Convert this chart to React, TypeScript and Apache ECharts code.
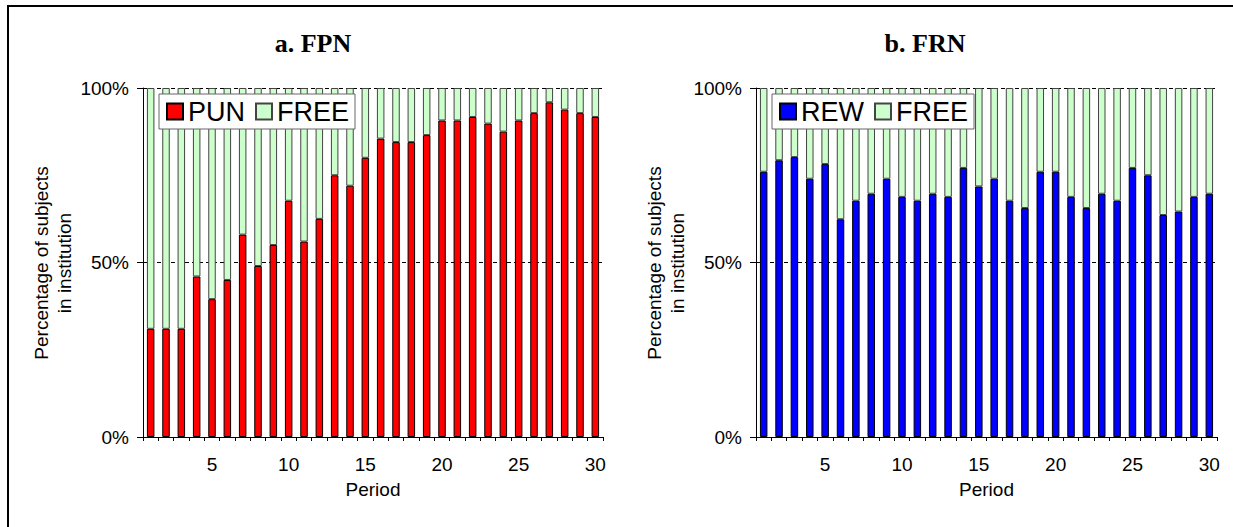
import React, { useEffect, useRef } from 'react';
import * as echarts from 'echarts';

const periods = ['1','2','3','4','5','6','7','8','9','10','11','12','13','14','15','16','17','18','19','20','21','22','23','24','25','26','27','28','29','30'];
const punShare = [31, 31, 31, 46, 39.5, 45, 58, 49, 55, 67.7, 56, 62.5, 75, 72, 80, 85.5, 84.5, 84.5, 86.5, 90.7, 90.7, 91.7, 89.8, 87.5, 90.7, 92.8, 95.9, 93.8, 92.8, 91.7];
const rewShare = [76, 79.3, 80.2, 74, 78.2, 62.4, 67.7, 69.7, 74, 68.8, 67.7, 69.7, 68.8, 77.1, 71.8, 74, 67.7, 65.6, 76, 76, 68.8, 65.6, 69.7, 67.7, 77.1, 75, 63.6, 64.6, 68.8, 69.7];
const yTicks = [0, 50, 100];
const titles = ['a. FPN', 'b. FRN'];
const yName = 'Percentage of subjects\nin institution';
const xName = 'Period';

const SANS = '"Liberation Sans", Arial, sans-serif';
const SERIF = '"Liberation Serif", "Times New Roman", serif';

const grids = [
  { left: 143, top: 88, width: 460, height: 349 },
  { left: 756, top: 88, width: 461, height: 349 },
];

export default function App() {
  const ref = useRef<HTMLDivElement>(null);
  useEffect(() => {
    if (!ref.current) return;
    const chart = echarts.init(ref.current, undefined, { renderer: 'svg' });
    const freeA = punShare.map((v) => Math.round((100 - v) * 10) / 10);
    const freeB = rewShare.map((v) => Math.round((100 - v) * 10) / 10);

    const xAxis = grids.map((_, i) => ({
      type: 'category',
      gridIndex: i,
      data: periods,
      boundaryGap: true,
      name: xName,
      nameLocation: 'middle',
      nameGap: 43,
      nameTextStyle: { fontFamily: SANS, fontSize: 19, color: '#000' },
      axisLine: { lineStyle: { color: '#000', width: 1 } },
      axisTick: { show: true, interval: 0, length: 4, lineStyle: { color: '#000' } },
      axisLabel: {
        interval: (idx: number) => (idx + 1) % 5 === 0,
        margin: 18,
        fontFamily: SANS,
        fontSize: 19,
        color: '#000',
      },
      splitLine: { show: false },
    }));

    const yAxis = grids.map((_, i) => ({
      type: 'value',
      gridIndex: i,
      min: yTicks[0],
      max: yTicks[yTicks.length - 1],
      interval: 50,
      axisLine: { show: true, lineStyle: { color: '#000', width: 1 } },
      axisTick: { show: true, length: 6, lineStyle: { color: '#000' } },
      axisLabel: {
        formatter: '{value}%',
        margin: 14,
        fontFamily: SANS,
        fontSize: 19,
        color: '#000',
        padding: [5, 0, 0, 0],
      },
      splitLine: { show: true, lineStyle: { color: '#000', width: 1, type: [4, 3] } },
    }));

    const freeStyle = { color: '#ccffcc', borderColor: '#444', borderWidth: 1 };

    const legendBase = {
      top: 94,
      orient: 'horizontal',
      itemWidth: 16,
      itemHeight: 16,
      itemGap: 10,
      padding: [4, 6, 4, 7],
      backgroundColor: '#fff',
      borderColor: '#666',
      borderWidth: 1,
      borderRadius: 0,
      icon: 'rect',
      textStyle: { fontFamily: SANS, fontSize: 27, color: '#000' },
    };

    chart.setOption({
      animation: false,
      backgroundColor: '#fff',
      grid: grids.map((g) => ({ ...g, containLabel: false })),
      xAxis,
      yAxis,
      legend: [
        { ...legendBase, left: 159, data: ['PUN', 'FREE'] },
        { ...legendBase, left: 772, data: ['REW', 'FREE'] },
      ],
      series: [
        {
          name: 'PUN', type: 'bar', stack: 'a', xAxisIndex: 0, yAxisIndex: 0,
          barWidth: 7.5, data: punShare,
          itemStyle: { color: '#ff0000', borderColor: '#000', borderWidth: 1 },
        },
        {
          name: 'FREE', type: 'bar', stack: 'a', xAxisIndex: 0, yAxisIndex: 0,
          barWidth: 7.5, data: freeA, itemStyle: freeStyle,
        },
        {
          name: 'REW', type: 'bar', stack: 'b', xAxisIndex: 1, yAxisIndex: 1,
          barWidth: 7.5, data: rewShare,
          itemStyle: { color: '#0000ff', borderColor: '#000', borderWidth: 1 },
        },
        {
          name: 'FREE', type: 'bar', stack: 'b', xAxisIndex: 1, yAxisIndex: 1,
          barWidth: 7.5, data: freeB, itemStyle: freeStyle,
        },
      ],
      graphic: [
        {
          type: 'rect', silent: true, z: 100,
          shape: { x: 8, y: 6, width: 1260, height: 560 },
          style: { fill: 'none', stroke: '#000', lineWidth: 2 },
        },
        {
          type: 'text', x: 313, y: 43,
          style: { text: titles[0], font: `bold 26px ${SERIF}`, fill: '#000', align: 'center', verticalAlign: 'middle' },
        },
        {
          type: 'text', x: 925, y: 43,
          style: { text: titles[1], font: `bold 26px ${SERIF}`, fill: '#000', align: 'center', verticalAlign: 'middle' },
        },
        {
          type: 'text', x: 53, y: 263, rotation: Math.PI / 2,
          style: { text: yName, font: `19px ${SANS}`, lineHeight: 23, fill: '#000', align: 'center', verticalAlign: 'middle' },
        },
        {
          type: 'text', x: 666, y: 263, rotation: Math.PI / 2,
          style: { text: yName, font: `19px ${SANS}`, lineHeight: 23, fill: '#000', align: 'center', verticalAlign: 'middle' },
        },
      ],
    });
    return () => chart.dispose();
  }, []);
  return <div ref={ref} style={{ position: 'fixed', left: 0, top: 0, width: 1233, height: 527 }} />;
}
